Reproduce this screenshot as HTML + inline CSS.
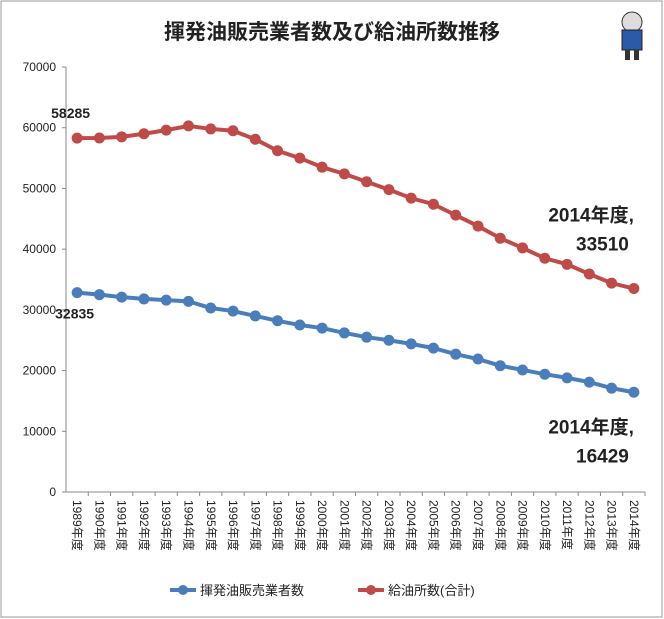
<!DOCTYPE html>
<html><head><meta charset="utf-8"><style>
body{margin:0;background:#fff;}
svg{display:block;font-family:"Liberation Sans","Noto Sans CJK JP",sans-serif;}
</style></head><body>
<svg id="c" width="664" height="619" viewBox="0 0 664 619">
<rect x="1" y="1" width="661" height="616" fill="#fff" stroke="#999"/>
<text x="332" y="39" text-anchor="middle" font-size="21" font-weight="bold" fill="#222">揮発油販売業者数及び給油所数推移</text>
<g>
<circle cx="632" cy="22" r="10" fill="#ddd" stroke="#333"/>
<rect x="622" y="30" width="20" height="20" fill="#2a5aa8" stroke="#222"/>
<rect x="625" y="50" width="5" height="10" fill="#333"/><rect x="634" y="50" width="5" height="10" fill="#333"/>
</g>
<g id="grid"></g><g id="marks"></g>
<g>
<line x1="170" y1="590" x2="196" y2="590" stroke="#4a7ebb" stroke-width="4"/><circle cx="183" cy="590" r="5" fill="#4a7ebb"/>
<text x="200" y="595" font-size="13" fill="#222">揮発油販売業者数</text>
<line x1="358" y1="590" x2="384" y2="590" stroke="#be4b48" stroke-width="4"/><circle cx="371" cy="590" r="5" fill="#be4b48"/>
<text x="388" y="595" font-size="13" fill="#222">給油所数(合計)</text>
</g>
</svg>
<script>
const years=["1989","1990","1991","1992","1993","1994","1995","1996","1997","1998","1999","2000","2001","2002","2003","2004","2005","2006","2007","2008","2009","2010","2011","2012","2013","2014"];
const stations=[58285,58300,58500,59000,59600,60300,59800,59500,58100,56200,55000,53500,52400,51100,49800,48400,47400,45600,43800,41800,40200,38500,37500,35900,34400,33510];
const dealers=[32835,32500,32100,31800,31600,31400,30300,29800,29000,28200,27500,27000,26200,25500,25000,24400,23700,22700,21900,20800,20100,19400,18800,18100,17100,16429];
const yTicks=[0,10000,20000,30000,40000,50000,60000,70000];
const NS="http://www.w3.org/2000/svg";
const x0=66,x1=645,yB=492,yT=67,yMax=70000;
const bw=(x1-x0)/years.length;
const X=i=>x0+bw*(i+0.5);
const Y=v=>yB-(v/yMax)*(yB-yT);
function mk(t,a,p){const e=document.createElementNS(NS,t);for(const k in a)e.setAttribute(k,a[k]);p.appendChild(e);return e;}
const g=document.getElementById('grid'),m=document.getElementById('marks');
mk('line',{x1:x0,y1:yT,x2:x0,y2:yB,stroke:'#888'},g);
mk('line',{x1:x0,y1:yB,x2:x1,y2:yB,stroke:'#888'},g);
yTicks.forEach(v=>{
 mk('line',{x1:x0-4,y1:Y(v),x2:x0,y2:Y(v),stroke:'#888'},g);
 const t=mk('text',{x:x0-10,y:Y(v)+4,'text-anchor':'end','font-size':'12',fill:'#222'},g);
 
 
 t.textContent=v;
});
years.forEach((y,i)=>{
 mk('line',{x1:x0+bw*(i+1),y1:yB,x2:x0+bw*(i+1),y2:yB+4,stroke:'#888'},g);
 const t=mk('text',{x:0,y:0,'font-size':'12',fill:'#222',transform:`translate(${X(i)-4},${yB+8}) rotate(90)`},g);
 
 
 t.textContent=y+'年度';
});
function series(arr,col,name){
 const p=mk('polyline',{points:arr.map((v,i)=>X(i)+','+Y(v)).join(' '),fill:'none',stroke:col,'stroke-width':'4'},m);
 
 
 arr.forEach((v,i)=>{const c=mk('circle',{cx:X(i),cy:Y(v),r:5.5,fill:col},m);
 
 });
}
series(stations,'#be4b48','stations');
series(dealers,'#4a7ebb','dealers');
function lab(x,y,s,size,anchor,name){const t=mk('text',{x:x,y:y,'font-size':size,'font-weight':'bold',fill:'#222','text-anchor':anchor||'start'},m);
 
 
 t.textContent=s;}
const L=years.length-1;
lab(X(0)-26,Y(stations[0])-20,stations[0],14,'start','stations-first-label');
lab(X(0)-22,Y(dealers[0])+26,dealers[0],14,'start','dealers-first-label');
lab(X(L),Y(stations[L])-67,'2014年度,',19,'end','stations-last-label-year');
lab(X(L)-5,Y(stations[L])-38,stations[L],19,'end','stations-last-label-value');
lab(X(L),Y(dealers[L])+41,'2014年度,',19,'end','dealers-last-label-year');
lab(X(L)-5,Y(dealers[L])+70,dealers[L],19,'end','dealers-last-label-value');
</script>
</body></html>
